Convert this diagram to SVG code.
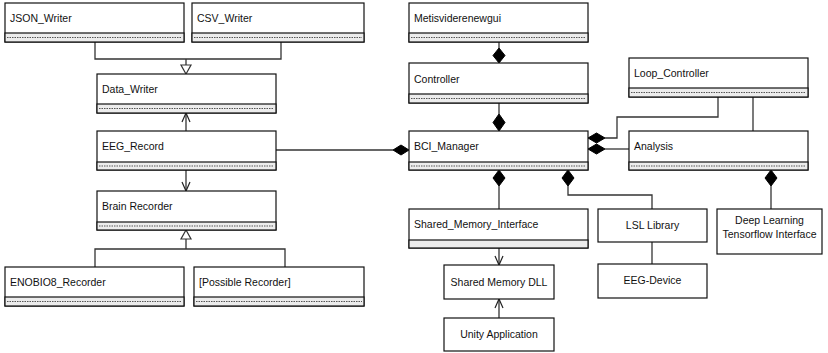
<svg xmlns="http://www.w3.org/2000/svg" width="828" height="353" viewBox="0 0 828 353">
<style>
.box{fill:#fff;stroke:#111;stroke-width:1.2}
.band{fill:#ececec;stroke:#111;stroke-width:1.2}
.dash{stroke:#555;stroke-width:1;stroke-dasharray:1.5 1}
.t{font-family:"Liberation Sans",Arial,sans-serif;font-size:10.5px;fill:#111}
.c{text-anchor:middle}
.ln{fill:none;stroke:#333;stroke-width:1.3}
.dia{fill:#000;stroke:#000;stroke-width:1}
.tri{fill:#fff;stroke:#333;stroke-width:1.2}
.arr{fill:none;stroke:#222;stroke-width:1.2}
</style>
<rect width="828" height="353" fill="#fff"/>
<g id="connectors">
  <!-- JSON/CSV to Data_Writer generalization -->
  <polyline class="ln" points="95,42 95,59 281,59 281,42"/>
  <line class="ln" x1="186" y1="59" x2="186" y2="65"/>
  <polygon class="tri" points="181,65 191,65 186,74"/>
  <!-- EEG_Record to Data_Writer -->
  <line class="ln" x1="186" y1="131" x2="186" y2="113"/>
  <polyline class="arr" points="182,122 186,113 190,122"/>
  <!-- EEG_Record to Brain Recorder -->
  <line class="ln" x1="186" y1="170" x2="186" y2="191"/>
  <polyline class="arr" points="182,182 186,191 190,182"/>
  <!-- Recorders to Brain Recorder -->
  <polyline class="ln" points="95,267 95,249 285,249 285,267"/>
  <line class="ln" x1="186" y1="249" x2="186" y2="239"/>
  <polygon class="tri" points="181,239 191,239 186,230"/>
  <!-- EEG_Record to BCI_Manager -->
  <line class="ln" x1="276" y1="150" x2="393" y2="150"/>
  <polygon class="dia" points="393,150 401,145 409,150 401,155"/>
  <!-- Metis to Controller -->
  <line class="ln" x1="499" y1="42" x2="499" y2="48"/>
  <polygon class="dia" points="499,48 505,55.5 499,63 493,55.5"/>
  <!-- Controller to BCI -->
  <line class="ln" x1="499" y1="103" x2="499" y2="114"/>
  <polygon class="dia" points="499,114 505,122.5 499,131 493,122.5"/>
  <!-- BCI to Loop_Controller -->
  <polygon class="dia" points="588,138 596.5,133 605,138 596.5,143"/>
  <polyline class="ln" points="605,138 617,138 617,117 718,117 718,97"/>
  <!-- BCI to Analysis -->
  <polygon class="dia" points="588,149 596.5,144 605,149 596.5,154"/>
  <line class="ln" x1="605" y1="149" x2="629" y2="149"/>
  <!-- Loop to Analysis -->
  <line class="ln" x1="753" y1="97" x2="753" y2="131"/>
  <!-- Analysis to Deep Learning -->
  <polygon class="dia" points="771,170 777,178 771,186 765,178"/>
  <line class="ln" x1="771" y1="186" x2="771" y2="209"/>
  <!-- BCI to Shared_Memory_Interface -->
  <polygon class="dia" points="499,170 505,178 499,186 493,178"/>
  <line class="ln" x1="499" y1="186" x2="499" y2="209"/>
  <!-- BCI to LSL -->
  <polygon class="dia" points="568,170 574,178 568,186 562,178"/>
  <polyline class="ln" points="568,186 568,195 652,195 652,209"/>
  <!-- SMI to DLL -->
  <line class="ln" x1="499" y1="248" x2="499" y2="265"/>
  <polyline class="arr" points="495,256 499,265 503,256"/>
  <!-- Unity to DLL -->
  <line class="ln" x1="499" y1="318" x2="499" y2="299"/>
  <polyline class="arr" points="495,308 499,299 503,308"/>
  <!-- LSL to EEG-Device -->
  <line class="ln" x1="652" y1="242" x2="652" y2="264"/>
</g>
<g id="json_writer">
  <rect class="box" x="5" y="3" width="179" height="39"/>
  <rect class="band" x="5" y="33" width="179" height="9"/>
  <line class="dash" x1="7" y1="37.5" x2="182" y2="37.5"/>
  <text class="t" x="10" y="22">JSON_Writer</text>
</g>
<g id="csv_writer">
  <rect class="box" x="192" y="3" width="172" height="39"/>
  <rect class="band" x="192" y="33" width="172" height="9"/>
  <line class="dash" x1="194" y1="37.5" x2="362" y2="37.5"/>
  <text class="t" x="197" y="22">CSV_Writer</text>
</g>
<g id="data_writer">
  <rect class="box" x="97" y="74" width="179" height="39"/>
  <rect class="band" x="97" y="104" width="179" height="9"/>
  <line class="dash" x1="99" y1="108.5" x2="274" y2="108.5"/>
  <text class="t" x="102" y="93">Data_Writer</text>
</g>
<g id="eeg_record">
  <rect class="box" x="97" y="131" width="179" height="39"/>
  <rect class="band" x="97" y="162" width="179" height="8"/>
  <line class="dash" x1="99" y1="166" x2="274" y2="166"/>
  <text class="t" x="102" y="150">EEG_Record</text>
</g>
<g id="brain_recorder">
  <rect class="box" x="97" y="191" width="179" height="39"/>
  <rect class="band" x="97" y="222" width="179" height="8"/>
  <line class="dash" x1="99" y1="226" x2="274" y2="226"/>
  <text class="t" x="102" y="210">Brain Recorder</text>
</g>
<g id="enobio8_recorder">
  <rect class="box" x="5" y="267" width="179" height="39"/>
  <rect class="band" x="5" y="297" width="179" height="9"/>
  <line class="dash" x1="7" y1="301.5" x2="182" y2="301.5"/>
  <text class="t" x="10" y="286">ENOBIO8_Recorder</text>
</g>
<g id="possible_recorder">
  <rect class="box" x="194" y="267" width="170" height="39"/>
  <rect class="band" x="194" y="297" width="170" height="9"/>
  <line class="dash" x1="196" y1="301.5" x2="362" y2="301.5"/>
  <text class="t" x="199" y="286">[Possible Recorder]</text>
</g>
<g id="metisviderenewgui">
  <rect class="box" x="409" y="3" width="179" height="39"/>
  <rect class="band" x="409" y="33" width="179" height="9"/>
  <line class="dash" x1="411" y1="37.5" x2="586" y2="37.5"/>
  <text class="t" x="414" y="22">Metisviderenewgui</text>
</g>
<g id="controller">
  <rect class="box" x="409" y="63" width="179" height="40"/>
  <rect class="band" x="409" y="94" width="179" height="9"/>
  <line class="dash" x1="411" y1="98.5" x2="586" y2="98.5"/>
  <text class="t" x="414" y="83">Controller</text>
</g>
<g id="bci_manager">
  <rect class="box" x="409" y="131" width="179" height="39"/>
  <rect class="band" x="409" y="162" width="179" height="8"/>
  <line class="dash" x1="411" y1="166" x2="586" y2="166"/>
  <text class="t" x="414" y="150">BCI_Manager</text>
</g>
<g id="loop_controller">
  <rect class="box" x="629" y="58" width="179" height="39"/>
  <rect class="band" x="629" y="88" width="179" height="9"/>
  <line class="dash" x1="631" y1="92.5" x2="806" y2="92.5"/>
  <text class="t" x="634" y="77">Loop_Controller</text>
</g>
<g id="analysis">
  <rect class="box" x="629" y="131" width="179" height="39"/>
  <rect class="band" x="629" y="162" width="179" height="8"/>
  <line class="dash" x1="631" y1="166" x2="806" y2="166"/>
  <text class="t" x="634" y="150">Analysis</text>
</g>
<g id="shared_memory_interface">
  <rect class="box" x="409" y="209" width="179" height="39"/>
  <rect class="band" x="409" y="240" width="179" height="8"/>
  <text class="t" x="414" y="228">Shared_Memory_Interface</text>
</g>
<g id="lsl_library">
  <rect class="box" x="598" y="209" width="109" height="33"/>
  <text class="t c" x="652.5" y="229">LSL Library</text>
</g>
<g id="deep_learning">
  <rect class="box" x="717" y="209" width="105" height="45"/>
  <text class="t c" x="769.5" y="224">Deep Learning</text>
  <text class="t c" x="769.5" y="238">Tensorflow Interface</text>
</g>
<g id="shared_memory_dll">
  <rect class="box" x="444" y="265" width="110" height="34"/>
  <text class="t c" x="499" y="286">Shared Memory DLL</text>
</g>
<g id="eeg_device">
  <rect class="box" x="598" y="264" width="109" height="34"/>
  <text class="t c" x="652.5" y="284">EEG-Device</text>
</g>
<g id="unity_application">
  <rect class="box" x="444" y="318" width="110" height="33"/>
  <text class="t c" x="499" y="338">Unity Application</text>
</g>
</svg>
